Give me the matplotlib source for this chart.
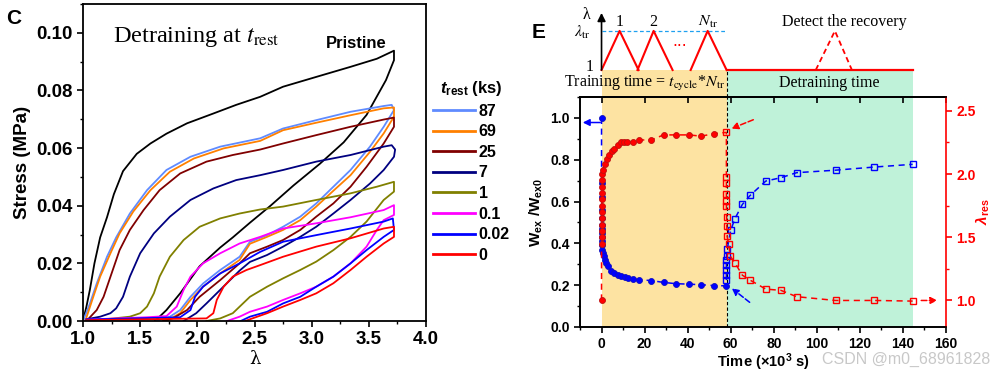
import matplotlib
matplotlib.use("Agg")
import matplotlib.pyplot as plt
import matplotlib.ticker as mticker

plt.rcParams["font.family"] = ["Liberation Sans", "DejaVu Sans"]
plt.rcParams["mathtext.fontset"] = "custom"
plt.rcParams["mathtext.rm"] = "Liberation Sans:bold"
plt.rcParams["mathtext.it"] = "Liberation Sans:bold:italic"
plt.rcParams["mathtext.bf"] = "Liberation Sans:bold"

# ---------------- panel C: loading / unloading loops ----------------
lam_pr_up = [1.00, 1.03, 1.06, 1.10, 1.15, 1.21, 1.27, 1.35, 1.47, 1.59, 1.73, 1.91, 2.14, 2.34, 2.55, 2.75, 3.04, 3.34, 3.57, 3.72]
s_pr_up = [0.0, 0.005, 0.0108, 0.020, 0.029, 0.036, 0.044, 0.052, 0.058, 0.0616, 0.065, 0.0686, 0.072, 0.075, 0.0778, 0.0813, 0.0847, 0.0882, 0.091, 0.0938]
lam_pr_dn = [3.72, 3.72, 3.65, 3.48, 3.28, 3.07, 2.84, 2.64, 2.46, 2.31, 2.20, 2.02, 1.85, 1.73, 1.63]
s_pr_dn = [0.0938, 0.0905, 0.0836, 0.0715, 0.062, 0.0545, 0.047, 0.040, 0.0341, 0.029, 0.0255, 0.019, 0.0096, 0.0038, 0.0]

lam_87_up = [1.00, 1.06, 1.12, 1.21, 1.29, 1.41, 1.56, 1.73, 1.94, 2.20, 2.55, 2.75, 3.04, 3.34, 3.63, 3.70]
s_87_up = [0.0, 0.006, 0.013, 0.0223, 0.029, 0.0373, 0.0454, 0.0524, 0.057, 0.0605, 0.0634, 0.0668, 0.0697, 0.0726, 0.0746, 0.075]
lam_87_dn = [3.70, 3.72, 3.63, 3.51, 3.34, 3.19, 3.04, 2.90, 2.75, 2.61, 2.46, 2.37, 2.20, 2.05, 1.94, 1.85, 1.76, 1.64]
s_87_dn = [0.075, 0.0732, 0.0674, 0.0605, 0.0524, 0.0466, 0.0408, 0.0362, 0.0327, 0.0298, 0.0275, 0.0223, 0.0177, 0.013, 0.0084, 0.0038, 0.0015, 0.0]

lam_69_up = [1.02, 1.09, 1.15, 1.24, 1.32, 1.44, 1.59, 1.76, 1.97, 2.23, 2.55, 2.75, 3.04, 3.34, 3.63, 3.72]
s_69_up = [0.0, 0.0084, 0.0154, 0.0235, 0.0304, 0.038, 0.0454, 0.0518, 0.0564, 0.0599, 0.0625, 0.0662, 0.0688, 0.0714, 0.0738, 0.0741]
lam_69_dn = [3.72, 3.72, 3.63, 3.51, 3.34, 3.19, 3.04, 2.90, 2.75, 2.61, 2.46, 2.37, 2.20, 2.05, 1.94, 1.85, 1.73]
s_69_dn = [0.0741, 0.0709, 0.0651, 0.0587, 0.0506, 0.0452, 0.0397, 0.035, 0.0316, 0.0292, 0.0268, 0.0212, 0.0165, 0.0119, 0.0073, 0.0027, 0.0]

lam_25_up = [1.03, 1.12, 1.18, 1.25, 1.32, 1.41, 1.53, 1.67, 1.85, 2.08, 2.31, 2.55, 2.75, 3.04, 3.34, 3.63, 3.72]
s_25_up = [0.0, 0.0038, 0.0084, 0.0165, 0.0246, 0.0316, 0.0385, 0.0454, 0.0512, 0.0553, 0.0576, 0.0595, 0.0616, 0.0645, 0.0674, 0.0699, 0.0706]
lam_25_dn = [3.72, 3.72, 3.63, 3.48, 3.34, 3.19, 3.04, 2.90, 2.75, 2.61, 2.46, 2.37, 2.20, 2.02, 1.91, 1.79, 1.70]
s_25_dn = [0.0706, 0.0674, 0.0616, 0.0535, 0.0466, 0.0408, 0.0362, 0.0316, 0.0281, 0.0258, 0.0235, 0.020, 0.0142, 0.0084, 0.0038, 0.001, 0.0]

lam_7_up = [1.03, 1.15, 1.24, 1.29, 1.35, 1.41, 1.50, 1.62, 1.76, 1.94, 2.14, 2.34, 2.55, 2.75, 3.04, 3.34, 3.63, 3.70]
s_7_up = [0.0006, 0.0015, 0.0027, 0.0044, 0.0084, 0.0154, 0.0235, 0.0304, 0.0362, 0.042, 0.046, 0.0489, 0.0506, 0.0524, 0.0553, 0.0576, 0.0605, 0.061]
lam_7_dn = [3.70, 3.73, 3.72, 3.63, 3.51, 3.34, 3.19, 3.04, 2.90, 2.75, 2.61, 2.46, 2.37, 2.20, 2.08, 1.99, 1.88]
s_7_dn = [0.061, 0.0595, 0.057, 0.0524, 0.0477, 0.042, 0.0373, 0.0327, 0.0292, 0.0258, 0.0229, 0.0205, 0.0175, 0.0108, 0.0061, 0.0027, 0.0]

lam_1_up = [1.03, 1.27, 1.41, 1.50, 1.56, 1.62, 1.67, 1.76, 1.88, 2.02, 2.20, 2.37, 2.55, 2.75, 3.04, 3.34, 3.57, 3.72]
s_1_up = [0.0, 0.0009, 0.0015, 0.0027, 0.005, 0.0096, 0.0154, 0.0223, 0.0281, 0.0327, 0.0356, 0.0373, 0.0387, 0.0397, 0.042, 0.0443, 0.0466, 0.0483]
lam_1_dn = [3.72, 3.72, 3.63, 3.48, 3.34, 3.19, 3.04, 2.90, 2.75, 2.61, 2.46, 2.31, 2.20, 2.08]
s_1_dn = [0.0483, 0.0449, 0.042, 0.0345, 0.0292, 0.0246, 0.0206, 0.0177, 0.0148, 0.0119, 0.0084, 0.0027, 0.0009, 0.0]

lam_01_up = [1.03, 1.56, 1.73, 1.82, 1.88, 1.94, 2.05, 2.20, 2.37, 2.55, 2.75, 3.04, 3.34, 3.63, 3.72]
s_01_up = [0.0005, 0.0013, 0.0017, 0.005, 0.0108, 0.0154, 0.020, 0.0235, 0.0269, 0.0292, 0.0321, 0.0339, 0.036, 0.0385, 0.0402]
lam_01_dn = [3.72, 3.72, 3.63, 3.57, 3.48, 3.34, 3.19, 3.04, 2.90, 2.75, 2.61, 2.46, 2.37, 2.26]
s_01_dn = [0.0402, 0.0368, 0.035, 0.0316, 0.0258, 0.020, 0.0154, 0.0119, 0.0096, 0.0073, 0.005, 0.0032, 0.0015, 0.0]

lam_002_up = [1.03, 1.85, 1.94, 1.98, 2.05, 2.20, 2.37, 2.55, 2.75, 3.04, 3.34, 3.63, 3.71]
s_002_up = [0.0005, 0.0013, 0.0038, 0.0084, 0.0119, 0.0165, 0.020, 0.024, 0.0275, 0.0298, 0.0321, 0.0345, 0.0356]
lam_002_dn = [3.71, 3.72, 3.63, 3.48, 3.34, 3.19, 3.04, 2.90, 2.75, 2.61, 2.46, 2.38]
s_002_dn = [0.0356, 0.0316, 0.0292, 0.0246, 0.020, 0.0154, 0.0119, 0.0084, 0.0061, 0.0032, 0.0015, 0.0]

lam_0_up = [1.03, 2.08, 2.14, 2.17, 2.23, 2.31, 2.43, 2.55, 2.75, 3.04, 3.34, 3.63, 3.72]
s_0_up = [0.0003, 0.0009, 0.0027, 0.0073, 0.0119, 0.0154, 0.0177, 0.0194, 0.0223, 0.0258, 0.0287, 0.0321, 0.0327]
lam_0_dn = [3.72, 3.72, 3.63, 3.48, 3.34, 3.19, 3.04, 2.90, 2.75, 2.61, 2.46, 2.42]
s_0_dn = [0.0327, 0.0292, 0.0269, 0.0223, 0.0177, 0.0131, 0.0096, 0.0073, 0.005, 0.0027, 0.0006, 0.0]

rest_labels = ["87", "69", "25", "7", "1", "0.1", "0.02", "0"]
rest_colors = ["#5F8BFF", "#FF8000", "#800000", "#000080", "#808000", "#FF00FF", "#0000FF", "#FF0000"]
loops = [
    (lam_87_up, s_87_up, lam_87_dn, s_87_dn),
    (lam_69_up, s_69_up, lam_69_dn, s_69_dn),
    (lam_25_up, s_25_up, lam_25_dn, s_25_dn),
    (lam_7_up, s_7_up, lam_7_dn, s_7_dn),
    (lam_1_up, s_1_up, lam_1_dn, s_1_dn),
    (lam_01_up, s_01_up, lam_01_dn, s_01_dn),
    (lam_002_up, s_002_up, lam_002_dn, s_002_dn),
    (lam_0_up, s_0_up, lam_0_dn, s_0_dn),
]

# ---------------- panel E: training / detraining ----------------
t_tr_w = [0.0, 0.02, 0.04, 0.06, 0.08, 0.10, 0.12, 0.14, 0.16, 0.18, 0.2, 0.3, 0.6, 1.0, 1.4, 2.0, 2.9, 4.5, 6.0, 7.6, 9.1, 10.7, 12.2, 14.6, 17.4, 23.1, 29.0, 34.7, 40.6, 46.4, 52.2, 57.9]
w_tr = [1.0, 0.69, 0.62, 0.56, 0.52, 0.49, 0.47, 0.45, 0.43, 0.41, 0.39, 0.37, 0.354, 0.34, 0.32, 0.305, 0.29, 0.266, 0.258, 0.25, 0.245, 0.238, 0.234, 0.229, 0.226, 0.222, 0.213, 0.207, 0.205, 0.202, 0.198, 0.197]
t_tr_l = [0.0, 0.02, 0.04, 0.06, 0.08, 0.10, 0.12, 0.14, 0.16, 0.18, 0.2, 0.3, 0.4, 0.6, 1.4, 2.5, 3.7, 4.8, 6.0, 7.6, 9.1, 10.4, 11.9, 14.6, 17.4, 23.1, 28.8, 34.7, 40.6, 46.4, 52.1]
lres_tr = [1.0, 1.45, 1.50, 1.55, 1.60, 1.65, 1.70, 1.75, 1.80, 1.85, 1.90, 1.95, 2.0, 2.03, 2.08, 2.12, 2.15, 2.18, 2.20, 2.23, 2.25, 2.25, 2.25, 2.25, 2.27, 2.27, 2.31, 2.31, 2.31, 2.30, 2.32]
t_de_w = [57.9, 58.0, 58.0, 58.0, 58.0, 58.0, 58.1, 58.4, 60.0, 61.9, 65.4, 69.1, 76.3, 83.3, 90.6, 108.7, 126.7, 144.5]
w_de = [0.197, 0.226, 0.25, 0.274, 0.298, 0.322, 0.341, 0.374, 0.462, 0.517, 0.586, 0.630, 0.698, 0.714, 0.738, 0.750, 0.765, 0.778]
t_de_l = [52.1, 58.0, 58.0, 58.0, 58.0, 58.0, 58.0, 58.1, 58.2, 58.3, 59.0, 59.8, 61.9, 65.4, 69.1, 76.3, 83.3, 90.6, 108.7, 126.7, 144.5]
lres_de = [2.32, 2.33, 1.98, 1.93, 1.84, 1.79, 1.75, 1.66, 1.59, 1.51, 1.45, 1.35, 1.30, 1.20, 1.16, 1.09, 1.08, 1.03, 1.0, 1.0, 0.995]

t_train_end = 58.1
t_detrain_end = 144.5
tri_start = [0.0, 16.7, 41.4]
tri_peak = [8.4, 24.2, 49.3]
tri_end = [17.2, 33.0, 58.1]
tri_labels = ["1", "2", r"$N_{\rm tr}$"]
detect_tri = [99.5, 108.4, 116.3]

ORANGE_BG = "#FDE3A2"
GREEN_BG = "#BFF2D9"
DASH = (0, (4, 3))

fig = plt.figure(figsize=(9.93, 3.72), dpi=100)
W, H = 993.0, 372.0


def box(x0, y0, x1, y1):
    return [x0 / W, 1 - y1 / H, (x1 - x0) / W, (y1 - y0) / H]


# ---- panel C ----
axc = fig.add_axes(box(83, 4, 426, 321))
axc.plot(lam_pr_up + lam_pr_dn, s_pr_up + s_pr_dn, color="black", lw=1.3)
handles = []
for (lu, su, ld, sd), lab, col in zip(loops, rest_labels, rest_colors):
    h, = axc.plot(lu + ld, su + sd, color=col, lw=1.3, label=lab)
    handles.append(h)
axc.set_xlim(1.0, 4.0)
axc.set_ylim(0, 0.11)
axc.xaxis.set_major_locator(mticker.MultipleLocator(0.5))
axc.xaxis.set_minor_locator(mticker.MultipleLocator(0.25))
axc.yaxis.set_major_locator(mticker.MultipleLocator(0.02))
axc.yaxis.set_minor_locator(mticker.MultipleLocator(0.01))
axc.xaxis.set_major_formatter(mticker.FormatStrFormatter("%.1f"))
axc.yaxis.set_major_formatter(mticker.FormatStrFormatter("%.2f"))
axc.tick_params(which="major", direction="out", length=4, width=1.2, labelsize=13.5)
axc.tick_params(which="minor", direction="out", length=2.5, width=1)
for lbl in axc.get_xticklabels() + axc.get_yticklabels():
    lbl.set_fontweight("bold")
for sp in axc.spines.values():
    sp.set_linewidth(1.3)
axc.set_xlabel("λ", fontsize=13, family="DejaVu Serif", labelpad=1)
axc.set_ylabel("Stress (MPa)", fontsize=13.5, fontweight="bold", labelpad=4)
axc.text(1.26, 0.0985, r"Detraining at $t_{\rm rest}$", fontsize=17.5, family="Liberation Serif",
         math_fontfamily="stix", va="center", ha="left")
axc.text(3.39, 0.0962, "Pristine", fontsize=12, fontweight="bold", ha="center", va="center")
leg = axc.legend(handles=handles, loc="upper left", bbox_to_anchor=(433 / W, 1 - 79 / H),
                 bbox_transform=fig.transFigure, frameon=False, borderpad=0, borderaxespad=0,
                 handlelength=2.6, handletextpad=0.25, labelspacing=0.35,
                 title=r"$t_{\rm rest}$ (ks)", prop={"weight": "bold", "size": 11.5},
                 title_fontproperties={"weight": "bold", "size": 12})
for ln in leg.get_lines():
    ln.set_linewidth(2)
fig.text(6 / W, 1 - 18 / H, "C", fontsize=15, fontweight="bold", va="center")

# ---- panel E schematic ----
axs = fig.add_axes(box(580, 0, 946, 97))
axs.set_xlim(-10, 160)
axs.set_ylim(0.31, 2.79)
axs.axis("off")
axs.fill_between([0, t_train_end], 0.31, 1.0, color=ORANGE_BG, lw=0)
axs.fill_between([t_train_end, t_detrain_end], 0.31, 1.0, color=GREEN_BG, lw=0)
axs.plot([t_train_end, t_train_end], [0.31, 1.0], color="black", lw=0.8, ls=(0, (3, 2)))
axs.annotate("", xy=(161, 1.0), xytext=(0, 1.0),
             arrowprops=dict(arrowstyle="-|>", color="black", lw=1.2, mutation_scale=12, shrinkA=0, shrinkB=0))
axs.annotate("", xy=(0, 2.46), xytext=(0, 1.0),
             arrowprops=dict(arrowstyle="-|>", color="black", lw=1.2, mutation_scale=12, shrinkA=0, shrinkB=0))
axs.plot([0, t_train_end], [2.0, 2.0], color="#1EA0F0", lw=0.9, ls=(0, (3, 2)))
for s0, pk, e0, lab in zip(tri_start, tri_peak, tri_end, tri_labels):
    axs.plot([s0, pk, e0], [1.0, 2.0, 1.0], color="red", lw=1.5)
    axs.text(pk, 2.22, lab, fontsize=11.5, family="Liberation Serif", math_fontfamily="stix",
             ha="center", va="center")
axs.text(36.3, 1.6, "···", color="red", fontsize=11, ha="center", va="center", family="DejaVu Sans")
axs.plot(detect_tri, [1.0, 2.0, 1.0], color="red", lw=1.3, ls=(0, (3, 2)))
axs.plot([t_train_end, t_detrain_end], [1.0, 1.0], color="red", lw=1.6)
axs.text(113.0, 2.23, "Detect the recovery", fontsize=11.5, family="Liberation Serif", ha="center", va="center")
axs.text(-7.0, 2.41, "λ", fontsize=11.5, family="Liberation Serif", ha="center", va="center")
axs.text(-8.8, 1.97, r"$\lambda_{\rm tr}$", fontsize=11.5, math_fontfamily="stix", ha="center", va="center")
axs.text(-5.6, 1.07, "1", fontsize=11.5, family="Liberation Serif", ha="center", va="center")
axs.text(20.0, 0.667, r"Training time = $t_{\rm cycle}$*$N_{\rm tr}$", fontsize=11.5, family="Liberation Serif",
         math_fontfamily="stix", ha="center", va="center")
axs.text(105.6, 0.667, "Detraining time", fontsize=11.5, family="Liberation Serif", ha="center", va="center")

# ---- panel E data ----
ax = fig.add_axes(box(580, 97, 946, 327))
ax2 = ax.twinx()
ax.axvspan(0, t_train_end, color=ORANGE_BG, lw=0, zorder=0)
ax.axvspan(t_train_end, t_detrain_end, color=GREEN_BG, lw=0, zorder=0)
ax.axvline(t_train_end, color="black", lw=0.8, ls=(0, (3, 2)), zorder=1)

ax.plot(t_tr_w + t_de_w, w_tr + w_de, color="blue", lw=1.1, ls=DASH, zorder=2)
ax.plot(t_tr_w, w_tr, "o", color="blue", ms=4.3, mec="#1010c0", mew=0.6, zorder=3)
ax.plot(t_de_w[1:], w_de[1:], "s", mfc="none", mec="blue", ms=4.0, mew=1.0, zorder=3)
ax2.plot(t_tr_l + t_de_l[1:], lres_tr + lres_de[1:], color="red", lw=1.1, ls=DASH, zorder=2)
ax2.plot(t_tr_l, lres_tr, "o", color="red", ms=4.3, mec="#c01010", mew=0.6, zorder=3)
ax2.plot(t_de_l[1:], lres_de[1:], "s", mfc="none", mec="red", ms=4.0, mew=1.0, zorder=3)

ax.annotate("", xy=(-8.7, 0.978), xytext=(-0.6, 0.978),
            arrowprops=dict(arrowstyle="-|>", color="blue", lw=1.1, mutation_scale=10, shrinkA=0, shrinkB=0),
            annotation_clip=False)
ax.annotate("", xy=(60.5, 0.185), xytext=(68.8, 0.118),
            arrowprops=dict(arrowstyle="-|>", color="blue", lw=1.1, ls="--", mutation_scale=10, shrinkA=0, shrinkB=0))
ax2.annotate("", xy=(60.3, 2.36), xytext=(70.5, 2.43),
             arrowprops=dict(arrowstyle="-|>", color="red", lw=1.1, ls="--", mutation_scale=10, shrinkA=0, shrinkB=0))
ax2.annotate("", xy=(156.0, 1.0), xytext=(148.5, 1.0),
             arrowprops=dict(arrowstyle="-|>", color="red", lw=1.1, ls="--", mutation_scale=10, shrinkA=0, shrinkB=0),
             annotation_clip=False)

ax.set_xlim(-10, 160)
ax.set_ylim(0, 1.1)
ax2.set_ylim(0.79, 2.61)
ax.xaxis.set_major_locator(mticker.MultipleLocator(20))
ax.xaxis.set_minor_locator(mticker.MultipleLocator(10))
ax.yaxis.set_major_locator(mticker.MultipleLocator(0.2))
ax.yaxis.set_minor_locator(mticker.MultipleLocator(0.1))
ax.yaxis.set_major_formatter(mticker.FormatStrFormatter("%.1f"))
ax2.yaxis.set_major_locator(mticker.MultipleLocator(0.5))
ax2.yaxis.set_minor_locator(mticker.MultipleLocator(0.25))
ax2.yaxis.set_major_formatter(mticker.FormatStrFormatter("%.1f"))
ax.tick_params(which="major", direction="out", length=4, width=1.2, labelsize=10)
ax.tick_params(which="minor", direction="out", length=2.5, width=1)
ax2.tick_params(which="major", direction="out", length=4, width=1.2, labelsize=10, colors="red")
ax2.tick_params(which="minor", direction="out", length=2.5, width=1, colors="red")
for lbl in ax.get_xticklabels() + ax.get_yticklabels() + ax2.get_yticklabels():
    lbl.set_fontweight("bold")
top = ax.secondary_xaxis("top")
top.xaxis.set_major_locator(mticker.MultipleLocator(20))
top.tick_params(direction="in", length=4, width=1.2, labeltop=False)
for sp in ax.spines.values():
    sp.set_linewidth(1.2)
ax.spines["right"].set_visible(False)
for sp in ax2.spines.values():
    sp.set_linewidth(1.2)
ax2.spines["right"].set_color("red")
top.spines["top"].set_linewidth(1.2)

ax.set_xlabel(r"Time (×10$^3$ s)", fontsize=10.5, fontweight="bold", labelpad=0)
ax.set_ylabel(r"W$_{\rm ex}$ /W$_{\rm ex0}$", fontsize=11, fontweight="bold", labelpad=4)
ax2.set_ylabel(r"$\lambda_{\rm res}$", fontsize=11, color="red")
ax2.yaxis.set_label_coords((983 - 580) / 366.0, 0.5)
ax2.yaxis.label.set_va("center")
fig.text(532 / W, 1 - 33 / H, "E", fontsize=15, fontweight="bold", va="center")

fig.text(0.997, 1 - 359 / H, "CSDN @m0_68961828", fontsize=11.5, color="#c8c8c8", ha="right", va="center")

fig.savefig("out.png", dpi=100)
